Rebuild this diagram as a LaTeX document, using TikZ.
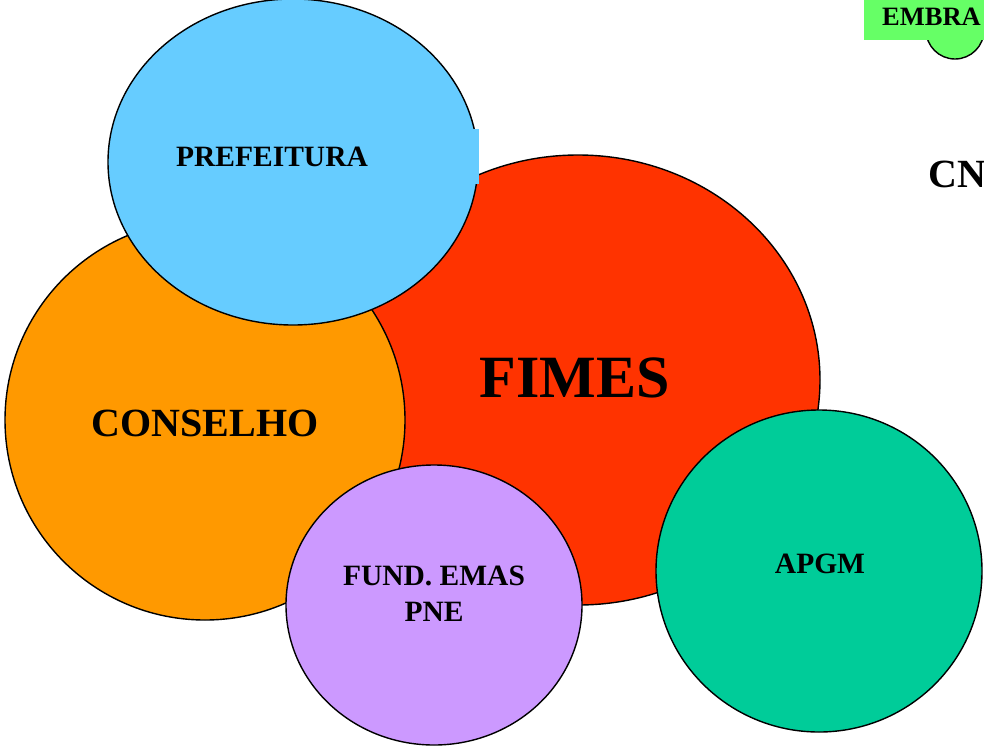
\documentclass[tikz,border=0pt]{standalone}
\usepackage{fontspec}
\setmainfont{Liberation Serif}
\usepackage{tikz}

\definecolor{fimesred}{HTML}{FF3300}
\definecolor{conselhoorange}{HTML}{FF9900}
\definecolor{prefblue}{HTML}{66CCFF}
\definecolor{fundlilac}{HTML}{CC99FF}
\definecolor{apgmgreen}{HTML}{00CC99}
\definecolor{embragreen}{HTML}{66FF66}

\begin{document}
\begin{tikzpicture}[x=1pt,y=-1pt,
    blob/.style={draw=black,line width=1.4pt},
    lbl/.style={font=\bfseries\fontsize{29.5}{36}\selectfont,align=center,inner sep=0pt}]
\useasboundingbox (0,0) rectangle (984,750);
\clip (0,0) rectangle (984,750);
\begin{scope}
    \filldraw[blob,fill=fimesred] (578,380) ellipse (242 and 225);
    \filldraw[blob,fill=conselhoorange] (205,420) circle(200);
    \filldraw[blob,fill=prefblue] (293,162) ellipse (185 and 163);
    \fill[prefblue] (473,129) rectangle (479,184);

    \filldraw[blob,fill=fundlilac] (434,605) ellipse (148 and 140);
    \filldraw[blob,fill=apgmgreen] (819,571) ellipse (163 and 161);

    \filldraw[blob,fill=embragreen] (955,30) circle(29);
    \fill[embragreen] (864,0) rectangle (990,40);

    \node[lbl] (pref) at (272,157) {PREFEITURA};
    \node[lbl,font=\bfseries\fontsize{60}{60}\selectfont] (fimes) at (575,378) {FIMES};
    \node[lbl,font=\bfseries\fontsize{40}{40}\selectfont] (cons) at (205,423) {CONSELHO};
    \node[lbl] (fund) at (434,594) {FUND. EMAS\\PNE};
    \node[lbl] (apgm) at (820,564) {APGM};
    \node[lbl,anchor=west,font=\bfseries\fontsize{26.5}{26}\selectfont] (embra) at (882,17) {EMBRA};
    \node[lbl,anchor=west,font=\bfseries\fontsize{40}{40}\selectfont] (cn) at (928,174) {CN};
\end{scope}
\end{tikzpicture}
\end{document}
